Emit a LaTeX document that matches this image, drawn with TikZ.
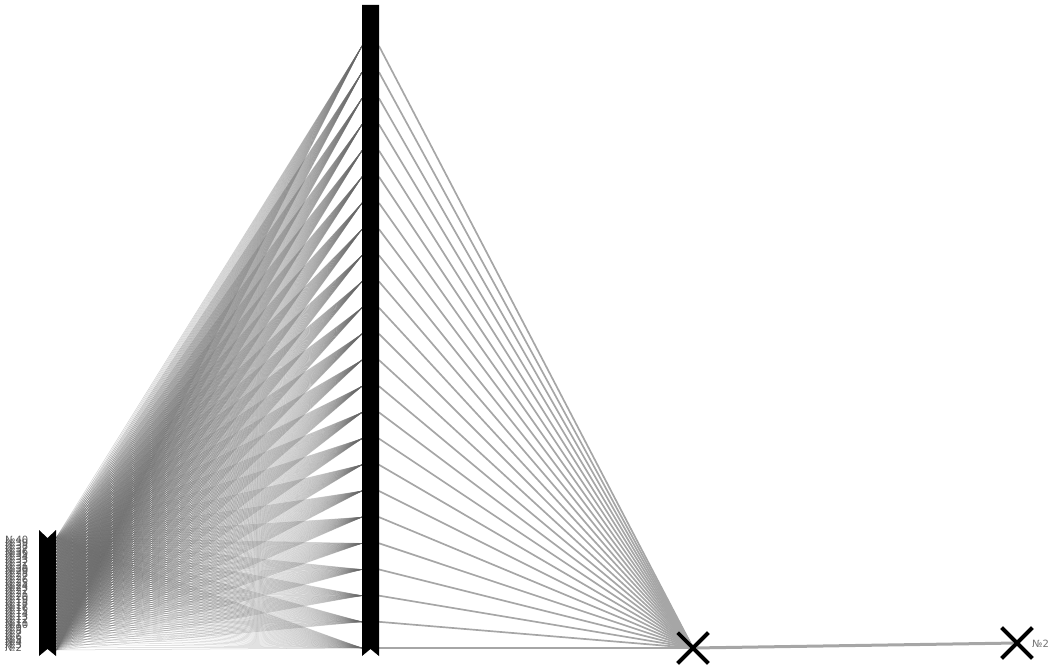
\documentclass[tikz,border=0pt]{standalone}
\usepackage{fontspec}
\newfontfamily\numfont{DejaVu Sans}
\usetikzlibrary{shapes.misc}
\tikzset{
  fanL/.style={draw=black!60, draw opacity=0.3, line width=0.5pt},
  fanR/.style={draw=black!35, line width=1.7pt},
  linkline/.style={draw=black!35, line width=3pt},
  barfill/.style={fill=black},
  xmark/.style={draw=black, cross out, line width=3.6pt, minimum size=27pt, inner sep=0pt},
  lbl/.style={font=\numfont\fontsize{10}{10}\selectfont, text=black!65, inner sep=0pt, anchor=west},
}
\begin{document}
\begin{tikzpicture}[x=1pt,y=-1pt]
\useasboundingbox (0,0) rectangle (1051,668);
% node positions
\foreach \i in {2,...,40} {
  \coordinate (L\i) at (56, {650 - (\i-2)*112/38});
  \coordinate (T\i) at (5, {648 - (\i-2)*108/38});
}
\foreach \j in {0,...,23} {
  \coordinate (Ml\j) at (362, {46 + \j*602/23});
  \coordinate (Mr\j) at (379, {46 + \j*602/23});
}
\node[xmark] (X1) at (693,648) {};
\node[xmark] (X2) at (1017,643) {};
% left fan
\foreach \j in {0,...,23} {
  \foreach \i in {2,...,40} {
    \draw[fanL] (L\i) -- (Ml\j);
  }
}
% right fan
\foreach \j in {0,...,23} {
  \draw[fanR] (Mr\j) -- (X1.center);
}
\draw[linkline] (X1.center) -- (X2.center);
\node[xmark] at (X1) {};
\node[xmark] at (X2) {};
% bars
\fill[barfill] (39,530) -- (47.5,538) -- (56,530) -- (56,656) -- (47.5,649) -- (39,656) -- cycle;
\fill[barfill] (362,5) -- (379,5) -- (379,656) -- (370.5,649) -- (362,656) -- cycle;
% labels
\foreach \i in {2,...,40} {
  \node[lbl] at (T\i) {№\i};
}
\node[lbl, text=black!55] (N2) at (1032,644) {№2};
\end{tikzpicture}
\end{document}
